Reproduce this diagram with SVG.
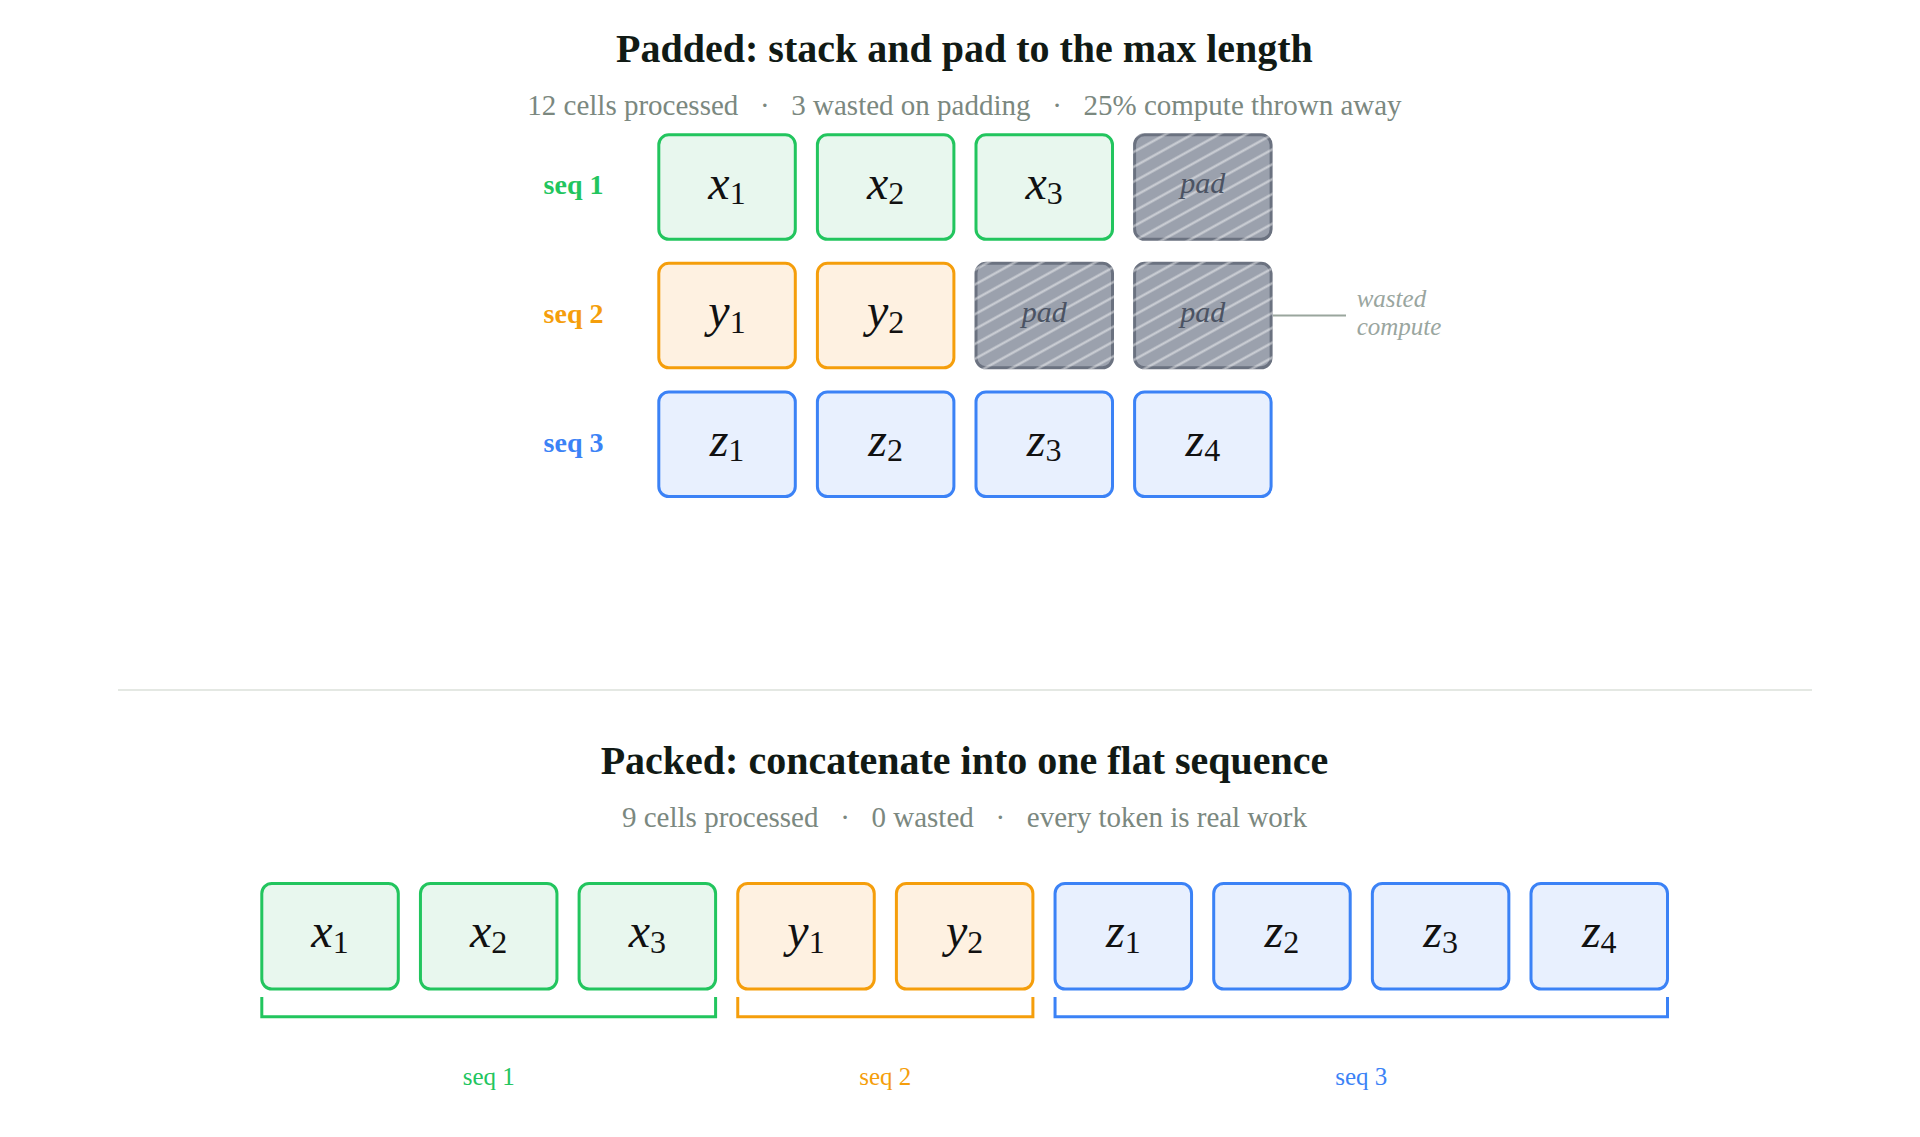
<svg xmlns="http://www.w3.org/2000/svg" width="1920" height="1137" viewBox="0 0 1920 1137">
<defs>
<style>
.title{font-family:"Liberation Serif","Times New Roman",serif;font-weight:bold;font-size:40px;fill:#111a15;text-anchor:middle}
.subt{font-family:"Liberation Serif","Times New Roman",serif;font-size:29px;fill:#7b887f}
.dot{text-anchor:middle}
.rowlab{font-family:"Liberation Serif","Times New Roman",serif;font-weight:bold;font-size:28px;text-anchor:end}
.cell{stroke-width:3}
.g{fill:#e8f7ee;stroke:#22c55e}
.o{fill:#fef1e1;stroke:#f59e0b}
.b{fill:#e8f0fe;stroke:#3b82f6}
.padc{fill:#9ba1ad;stroke:#6b7280;stroke-width:3}
.tok{font-family:"Liberation Serif","Times New Roman",serif;font-style:italic;font-size:48px;fill:#111;text-anchor:middle}
.sb{font-style:normal;font-size:32px}
.padt{font-family:"Liberation Serif","Times New Roman",serif;font-style:italic;font-size:30px;fill:#4b5363;text-anchor:middle}
.note{font-family:"Liberation Serif","Times New Roman",serif;font-style:italic;font-size:25px;fill:#9aa69f}
.blab{font-family:"Liberation Serif","Times New Roman",serif;font-size:25px;text-anchor:middle}
.brk{fill:none;stroke-width:3}
</style>
<pattern id="hatch" patternUnits="userSpaceOnUse" width="13" height="13" patternTransform="rotate(-29)">
<line x1="-2" y1="6.5" x2="15" y2="6.5" stroke="#ffffff" stroke-opacity="0.5" stroke-width="2.2"/>
</pattern>
</defs>
<rect width="1920" height="1137" fill="#ffffff"/>

<g id="padded-header">
<text class="title" x="964.5" y="61.7">Padded: stack and pad to the max length</text>
<text class="subt" x="527.3" y="115">12 cells processed</text>
<text class="subt dot" x="764.8" y="115">·</text>
<text class="subt" x="791.3" y="115">3 wasted on padding</text>
<text class="subt dot" x="1057" y="115">·</text>
<text class="subt" x="1083.5" y="115">25% compute thrown away</text>
</g>

<g id="row-labels">
<text class="rowlab" x="603.5" y="194" fill="#22c55e">seq 1</text>
<text class="rowlab" x="603.5" y="322.5" fill="#f59e0b">seq 2</text>
<text class="rowlab" x="603.5" y="451.5" fill="#3b82f6">seq 3</text>
</g>

<g id="pad-x1"><rect class="cell g" x="658.8" y="134.8" width="136.5" height="104.5" rx="10"/><text class="tok" x="727" y="198.5">x<tspan class="sb" dy="5.5">1</tspan></text></g>
<g id="pad-x2"><rect class="cell g" x="817.4" y="134.8" width="136.5" height="104.5" rx="10"/><text class="tok" x="885.6" y="198.5">x<tspan class="sb" dy="5.5">2</tspan></text></g>
<g id="pad-x3"><rect class="cell g" x="976" y="134.8" width="136.5" height="104.5" rx="10"/><text class="tok" x="1044.2" y="198.5">x<tspan class="sb" dy="5.5">3</tspan></text></g>
<g id="pad-p1"><rect class="padc" x="1134.6" y="134.8" width="136.5" height="104.5" rx="10"/><rect x="1133.1" y="133.3" width="139.5" height="107.5" rx="11.5" fill="url(#hatch)"/><text class="padt" x="1202.8" y="193.3">pad</text></g>

<g id="pad-y1"><rect class="cell o" x="658.8" y="263.3" width="136.5" height="104.5" rx="10"/><text class="tok" x="727" y="327">y<tspan class="sb" dy="5.5">1</tspan></text></g>
<g id="pad-y2"><rect class="cell o" x="817.4" y="263.3" width="136.5" height="104.5" rx="10"/><text class="tok" x="885.6" y="327">y<tspan class="sb" dy="5.5">2</tspan></text></g>
<g id="pad-p2"><rect class="padc" x="976" y="263.3" width="136.5" height="104.5" rx="10"/><rect x="974.5" y="261.8" width="139.5" height="107.5" rx="11.5" fill="url(#hatch)"/><text class="padt" x="1044.2" y="321.8">pad</text></g>
<g id="pad-p3"><rect class="padc" x="1134.6" y="263.3" width="136.5" height="104.5" rx="10"/><rect x="1133.1" y="261.8" width="139.5" height="107.5" rx="11.5" fill="url(#hatch)"/><text class="padt" x="1202.8" y="321.8">pad</text></g>

<g id="pad-z1"><rect class="cell b" x="658.8" y="392" width="136.5" height="104.5" rx="10"/><text class="tok" x="727" y="455.8">z<tspan class="sb" dy="5.5">1</tspan></text></g>
<g id="pad-z2"><rect class="cell b" x="817.4" y="392" width="136.5" height="104.5" rx="10"/><text class="tok" x="885.6" y="455.8">z<tspan class="sb" dy="5.5">2</tspan></text></g>
<g id="pad-z3"><rect class="cell b" x="976" y="392" width="136.5" height="104.5" rx="10"/><text class="tok" x="1044.2" y="455.8">z<tspan class="sb" dy="5.5">3</tspan></text></g>
<g id="pad-z4"><rect class="cell b" x="1134.6" y="392" width="136.5" height="104.5" rx="10"/><text class="tok" x="1202.8" y="455.8">z<tspan class="sb" dy="5.5">4</tspan></text></g>

<g id="wasted-note">
<text class="note" x="1356.7" y="307.3">wasted</text>
<text class="note" x="1356.7" y="335">compute</text>
</g>

<g id="connectors">
<line x1="1273" y1="315.5" x2="1346" y2="315.5" stroke="#9aa69d" stroke-width="2"/>
</g>

<g id="separator">
<line x1="118" y1="690" x2="1812" y2="690" stroke="#e4e8e3" stroke-width="2"/>
</g>

<g id="packed-header">
<text class="title" x="964.5" y="774.3">Packed: concatenate into one flat sequence</text>
<text class="subt" x="622" y="826.7">9 cells processed</text>
<text class="subt dot" x="845" y="826.7">·</text>
<text class="subt" x="871.5" y="826.7">0 wasted</text>
<text class="subt dot" x="1000.3" y="826.7">·</text>
<text class="subt" x="1026.8" y="826.7">every token is real work</text>
</g>

<g id="pk-x1"><rect class="cell g" x="261.8" y="883.5" width="136.5" height="105.5" rx="10"/><text class="tok" x="330" y="947.3">x<tspan class="sb" dy="5.5">1</tspan></text></g>
<g id="pk-x2"><rect class="cell g" x="420.45" y="883.5" width="136.5" height="105.5" rx="10"/><text class="tok" x="488.7" y="947.3">x<tspan class="sb" dy="5.5">2</tspan></text></g>
<g id="pk-x3"><rect class="cell g" x="579.1" y="883.5" width="136.5" height="105.5" rx="10"/><text class="tok" x="647.35" y="947.3">x<tspan class="sb" dy="5.5">3</tspan></text></g>
<g id="pk-y1"><rect class="cell o" x="737.75" y="883.5" width="136.5" height="105.5" rx="10"/><text class="tok" x="806" y="947.3">y<tspan class="sb" dy="5.5">1</tspan></text></g>
<g id="pk-y2"><rect class="cell o" x="896.4" y="883.5" width="136.5" height="105.5" rx="10"/><text class="tok" x="964.65" y="947.3">y<tspan class="sb" dy="5.5">2</tspan></text></g>
<g id="pk-z1"><rect class="cell b" x="1055.05" y="883.5" width="136.5" height="105.5" rx="10"/><text class="tok" x="1123.3" y="947.3">z<tspan class="sb" dy="5.5">1</tspan></text></g>
<g id="pk-z2"><rect class="cell b" x="1213.7" y="883.5" width="136.5" height="105.5" rx="10"/><text class="tok" x="1281.95" y="947.3">z<tspan class="sb" dy="5.5">2</tspan></text></g>
<g id="pk-z3"><rect class="cell b" x="1372.35" y="883.5" width="136.5" height="105.5" rx="10"/><text class="tok" x="1440.6" y="947.3">z<tspan class="sb" dy="5.5">3</tspan></text></g>
<g id="pk-z4"><rect class="cell b" x="1531" y="883.5" width="136.5" height="105.5" rx="10"/><text class="tok" x="1599.25" y="947.3">z<tspan class="sb" dy="5.5">4</tspan></text></g>

<g id="bracket-seq1"><path class="brk" stroke="#22c55e" d="M261.8,997 V1016.7 H715.6 V997"/><text class="blab" x="488.7" y="1085" fill="#22c55e">seq 1</text></g>
<g id="bracket-seq2"><path class="brk" stroke="#f59e0b" d="M737.75,997 V1016.7 H1032.9 V997"/><text class="blab" x="885.3" y="1085" fill="#f59e0b">seq 2</text></g>
<g id="bracket-seq3"><path class="brk" stroke="#3b82f6" d="M1055.05,997 V1016.7 H1667.5 V997"/><text class="blab" x="1361.3" y="1085" fill="#3b82f6">seq 3</text></g>
</svg>
